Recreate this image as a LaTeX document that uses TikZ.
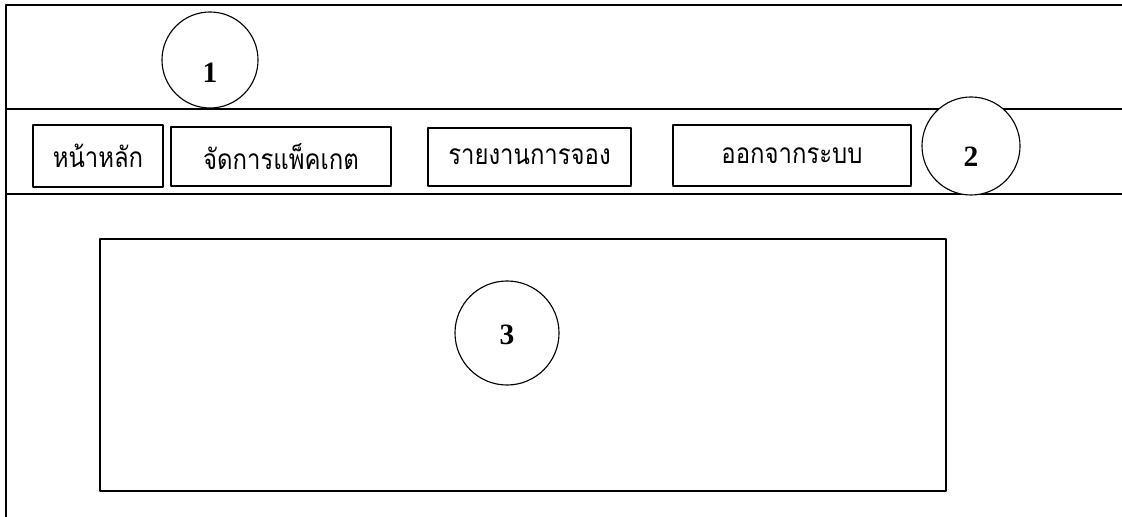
\documentclass[tikz,border=0pt]{standalone}
\usepackage{fontspec}
\setmainfont{Liberation Serif}
\newfontfamily\thaifont[Script=Thai,FakeStretch=0.85]{Loma}
\begin{document}
\begin{tikzpicture}[x=0.025cm, y=-0.025cm, line join=round, line cap=round,
	menubtn/.style={draw, line width=1pt, inner sep=0pt, font=\thaifont\fontsize{20}{24}\selectfont},
	numcirc/.style={draw, circle, fill=white, line width=0.8pt, inner sep=0pt},
	numtxt/.style={inner sep=0pt, font=\bfseries\fontsize{21}{24}\selectfont}]
	\def\W{1122} \def\H{517} % ขนาดภาพ
	\def\ytop{5} \def\ymenu{109} \def\ybody{194}
	\useasboundingbox (0,0) rectangle (\W,\H);
	% กรอบหน้าจอ
	\draw[line width=1.4pt] (\W,\ytop)--(6,\ytop)--(6,\H);
	\draw[line width=1.4pt] (6,\ymenu)--(\W,\ymenu);
	\draw[line width=1.4pt] (6,\ybody)--(\W,\ybody);
	% เมนู
	\node[menubtn, minimum width=3.25cm, minimum height=1.55cm] (home) at (98,156) {หน้าหลัก};
	\node[menubtn, minimum width=5.5cm, minimum height=1.475cm] (pkg) at (281,156.5) {จัดการแพ็คเกต};
	\node[menubtn, minimum width=5.075cm, minimum height=1.45cm] (report) at (529.5,157) {รายงานการจอง};
	\node[menubtn, minimum width=5.95cm, minimum height=1.525cm] (logout) at (792,155.5) {ออกจากระบบ};
	% ส่วนเนื้อหา
	\draw[line width=1.4pt] (100,239) rectangle (946,491);
	\node[numcirc, minimum size=2.4cm] (c1) at (210,60) {};
	\node[numcirc, minimum size=2.45cm] (c2) at (971,146) {};
	\node[numcirc, minimum size=2.6cm] (c3) at (507,333) {};
	\node[numtxt] (n1) at ([yshift=-0.32cm]c1.center) {1};
	\node[numtxt] (n2) at ([yshift=-0.27cm]c2.center) {2};
	\node[numtxt] (n3) at ([yshift=-0.05cm]c3.center) {3};
\end{tikzpicture}
\end{document}
